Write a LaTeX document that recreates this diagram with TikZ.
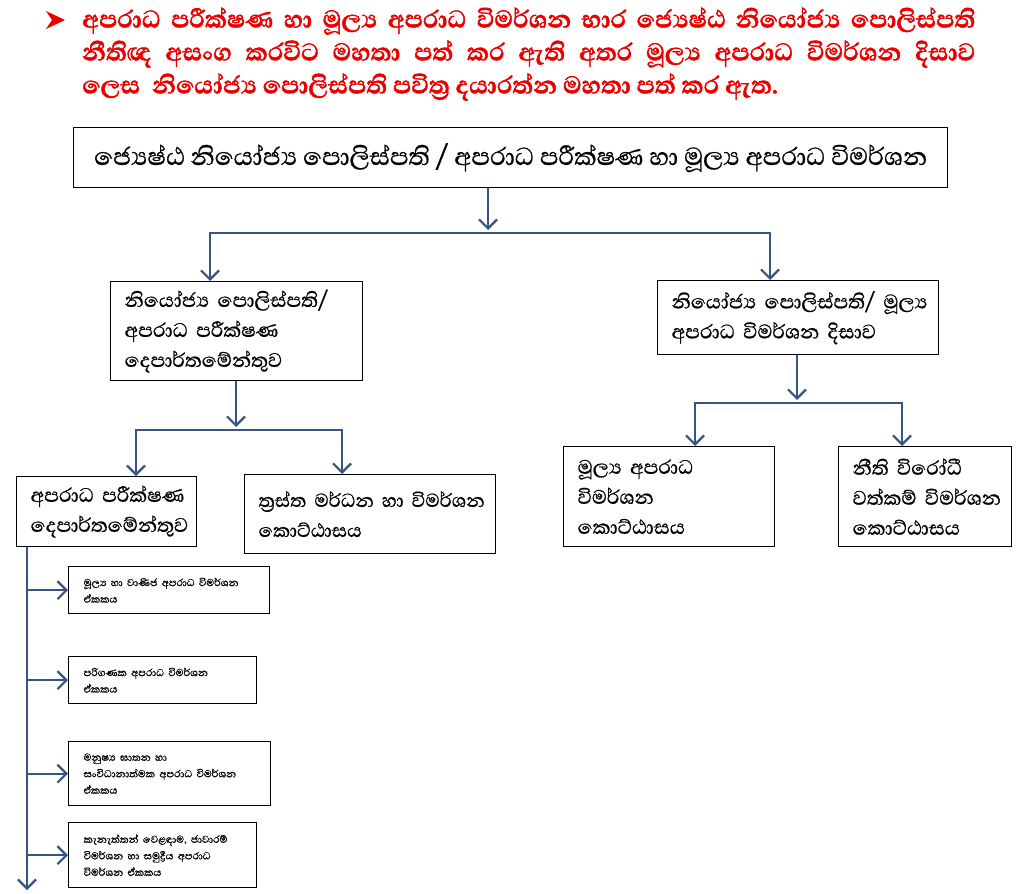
\documentclass[tikz,border=0pt]{standalone}
\usepackage{fontspec}
\newfontfamily\sinhfont[Script=Sinhala, FakeBold=0.8]{Abhaya Libre}
\newfontfamily\sinhhdr[Script=Sinhala, BoldFeatures={FakeBold=1.5}]{Abhaya Libre}
\usetikzlibrary{arrows.meta}
\definecolor{conn}{RGB}{56,84,128}
\definecolor{hdr}{RGB}{235,0,0}
\begin{document}
\begin{tikzpicture}[x=1pt,y=-1pt,
  box/.style={draw=black, line width=1.3pt, anchor=north west, inner ysep=0pt, align=left},
  bigbox/.style={box, font=\sinhfont\fontsize{25}{30}\selectfont, inner xsep=14pt},
  smallbox/.style={box, font=\sinhfont\fontsize{13}{16.5}\selectfont, inner xsep=15pt},
  hdrline/.style={anchor=west, inner sep=0pt, text=hdr, font=\sinhhdr\bfseries\fontsize{31}{33}\selectfont},
  conn/.style={draw=conn, line width=2.2pt},
  arr/.style={conn, -{Straight Barb[length=9pt,width=18pt,line width=2.2pt]}}
]
\useasboundingbox (0,0) rectangle (1024,893);
% header
\fill[hdr] (46,11) -- (65,20) -- (46,29) -- (52,20) -- cycle;
\node[hdrline] (h1) at (82,21) {\makebox[893pt][s]{අපරාධ පරීක්ෂණ හා මූල්‍ය අපරාධ විමර්ශන භාර ජ්‍යෙෂ්ඨ නියෝජ්‍ය පොලිස්පති}};
\node[hdrline] (h2) at (82,54) {\makebox[893pt][s]{නීතිඥ අසංග කරවිට මහතා පත් කර ඇති අතර මූල්‍ය අපරාධ විමර්ශන දිසාව}};
\node[hdrline] (h3) at (82,87) {ලෙස\ \ නියෝජ්‍ය පොලිස්පති පවිත්‍ර දයාරත්න මහතා පත් කර ඇත.};
% boxes
\node[box, font=\sinhfont\fontsize{31.5}{30}\selectfont, align=center, inner xsep=0pt, minimum width=874pt, minimum height=60pt] (top) at (73,127)
  {ජ්‍යෙෂ්ඨ නියෝජ්‍ය පොලිස්පති / අපරාධ පරීක්ෂණ හා මූල්‍ය අපරාධ විමර්ශන};
\node[bigbox, minimum width=252pt, minimum height=99pt, text width=224pt] (m1) at (110,281)
  {\mbox{නියෝජ්‍ය පොලිස්පති/}\\\mbox{අපරාධ පරීක්ෂණ}\\\mbox{දෙපාර්තමේන්තුව}};
\node[bigbox, minimum width=281pt, minimum height=74pt, text width=253pt] (m2) at (657,280)
  {\mbox{නියෝජ්‍ය පොලිස්පති/ මූල්‍ය}\\\mbox{අපරාධ විමර්ශන දිසාව}};
\node[bigbox, minimum width=180pt, minimum height=70pt, text width=152pt] (l1) at (16,476)
  {\mbox{අපරාධ පරීක්ෂණ}\\\mbox{දෙපාර්තමේන්තුව}};
\node[bigbox, font=\sinhfont\fontsize{24}{30}\selectfont, minimum width=251pt, minimum height=79pt, text width=223pt] (l2) at (244,474)
  {\mbox{ත්‍රස්ත මර්ධන හා විමර්ශන}\\\mbox{කොට්ඨාසය}};
\node[bigbox, minimum width=211pt, minimum height=100pt, text width=183pt] (r1) at (563,446)
  {\mbox{මූල්‍ය අපරාධ}\\\mbox{විමර්ශන}\\\mbox{කොට්ඨාසය}};
\node[bigbox, minimum width=173pt, minimum height=100pt, text width=145pt] (r2) at (838,446)
  {\mbox{නීති විරෝධී}\\\mbox{වත්කම් විමර්ශන}\\\mbox{කොට්ඨාසය}};
\node[smallbox, minimum width=201pt, minimum height=47pt, text width=171pt] (s1) at (68,566)
  {\mbox{මූල්‍ය හා වාණිජ අපරාධ විමර්ශන}\\\mbox{ඒකකය}};
\node[smallbox, minimum width=188pt, minimum height=47pt, text width=158pt] (s2) at (68,656)
  {\mbox{පරිගණක අපරාධ විමර්ශන}\\\mbox{ඒකකය}};
\node[smallbox, minimum width=202pt, minimum height=64pt, text width=172pt] (s3) at (68,741)
  {\mbox{මනුෂ්‍ය ඝාතන හා}\\\mbox{සංවිධානාත්මක අපරාධ විමර්ශන}\\\mbox{ඒකකය}};
\node[smallbox, minimum width=188pt, minimum height=65pt, text width=158pt] (s4) at (68,822)
  {\mbox{කැනැත්තන් වෙළඳාම, ජාවාරම්}\\\mbox{විමර්ශන හා සමුද්‍රීය අපරාධ}\\\mbox{විමර්ශන ඒකකය}};
% connectors level 1
\coordinate (t0) at (488,230);
\coordinate (hb1) at (488,233);
\coordinate (x1) at (210,233);
\coordinate (x2) at (770,233);
\draw[arr] (t0 |- top.south) -- (t0);
\draw[arr] (hb1) -| (x1 |- m1.north);
\draw[arr] (hb1) -| (x2 |- m2.north);
% connectors level 2 left
\coordinate (t1) at (236,427);
\coordinate (hb2) at (236,430);
\coordinate (x3) at (136,430);
\coordinate (x4) at (342,430);
\draw[arr] (t1 |- m1.south) -- (t1);
\draw[arr] (hb2) -| (x3 |- l1.north);
\draw[arr] (hb2) -| (x4 |- l2.north);
% connectors level 2 right
\coordinate (t2) at (797,400);
\coordinate (hb3) at (797,403);
\coordinate (x5) at (695,403);
\coordinate (x6) at (902,403);
\draw[arr] (t2 |- m2.south) -- (t2);
\draw[arr] (hb3) -| (x5 |- r1.north);
\draw[arr] (hb3) -| (x6 |- r2.north);
% spine
\coordinate (sp) at (27,890);
\draw[arr] (sp |- l1.south) -- (sp);
\draw[arr] (sp |- s1.west) -- (s1.west);
\draw[arr] (sp |- s2.west) -- (s2.west);
\draw[arr] (sp |- s3.west) -- (s3.west);
\draw[arr] (sp |- s4.west) -- (s4.west);
\end{tikzpicture}
\end{document}
